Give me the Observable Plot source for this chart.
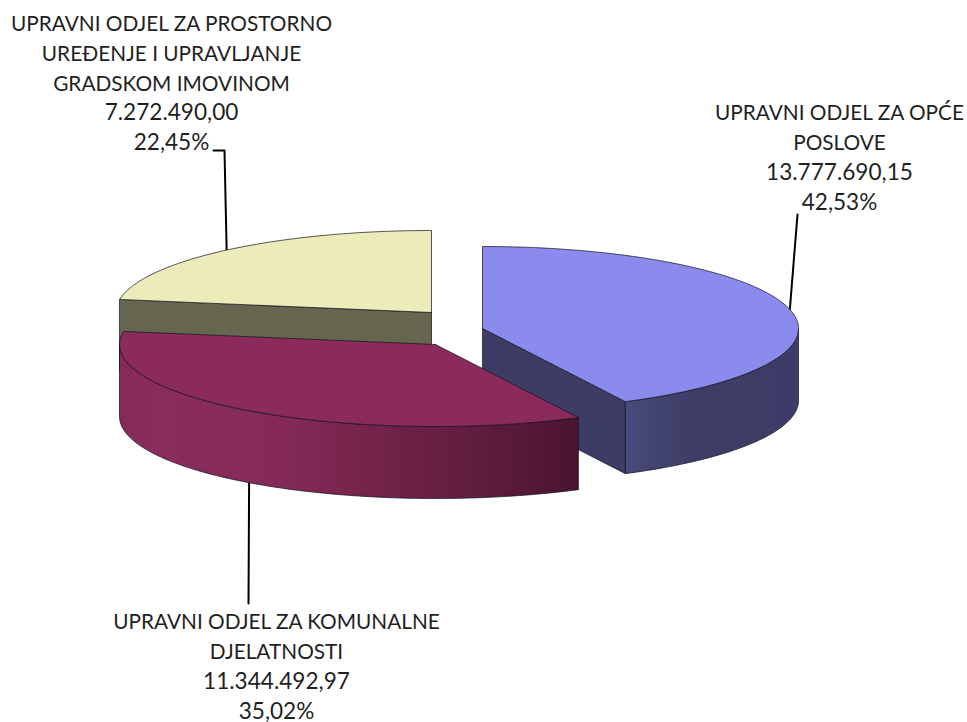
<!DOCTYPE html>
<html>
<head>
<meta charset="utf-8">
<script src="https://cdn.jsdelivr.net/npm/d3@7"></script>
<script src="https://cdn.jsdelivr.net/npm/@observablehq/plot@0.6"></script>
<style>html,body{margin:0;padding:0;background:#fff}svg{display:block}</style>
</head>
<body>
<div id="chart"></div>
<script>
// Data, in drawing order of the pie (clockwise from 12 o'clock)
const departments = ["UPRAVNI ODJEL ZA OPĆE\nPOSLOVE", "UPRAVNI ODJEL ZA KOMUNALNE\nDJELATNOSTI", "UPRAVNI ODJEL ZA PROSTORNO\nUREĐENJE I UPRAVLJANJE\nGRADSKOM IMOVINOM"];
const amounts = [13777690.15, 11344492.97, 7272490.00];

// Presentation
const topColors = ["#8b8bee", "#8b2b5b", "#ececbb"];
const wallColors = ["#3c3c66", "#8b2b5b", "#66664f"];
const centers = [[482, 328], [435, 344], [431, 312]];   // exploded slice apexes
const labelCenters = [[839, 155], [276, 664], [171, 80.5]];
const leaderEnds = [[[797, 214]], [[248, 603]], [[224, 150], [213, 150]]];
const radiusX = 316, radiusY = 82, depth = 72;
const linePitch = 29.8, nameSize = 20.8, numberSize = 22.6;

const total = d3.sum(amounts);
const num = d3.formatLocale({decimal: ",", thousands: ".", grouping: [3], currency: ["", ""]});
const fmtAmount = num.format(",.2f");
const fmtPct = v => num.format(".2f")(v) + "%";

let acc = 0;
const slices = amounts.map((v, i) => {
  const a0 = acc / total * 2 * Math.PI;
  acc += v;
  const a1 = acc / total * 2 * Math.PI;
  return {i, a0, a1, mid: (a0 + a1) / 2, cx: centers[i][0], cy: centers[i][1]};
});
const rim = (s, a, dz = 0) => ({x: s.cx + radiusX * Math.sin(a), y: s.cy - radiusY * Math.cos(a) + dz});
const arc = (s, a0, a1, dz = 0) => {
  const n = Math.max(2, Math.ceil(Math.abs(a1 - a0) * 60));
  return d3.range(n + 1).map(k => rim(s, a0 + (a1 - a0) * k / n, dz));
};
const close = pts => [...pts, pts[0]];
const apex = (s, dz = 0) => ({x: s.cx, y: s.cy + dz});

const topFace = s => close([apex(s), ...arc(s, s.a0, s.a1)]);
const radialWall = (s, a) => close([apex(s), rim(s, a), rim(s, a, depth), apex(s, depth)]);
const outerWall = s => {
  const a0 = Math.max(s.a0, Math.PI / 2), a1 = Math.min(s.a1, 3 * Math.PI / 2);
  return a1 > a0 ? close([...arc(s, a0, a1), ...arc(s, a1, a0, depth)]) : null;
};

const edge = {stroke: "#14141f", strokeWidth: 0.9, strokeOpacity: 0.8, strokeLinejoin: "round"};
const poly = (pts, fill) => Plot.line(pts, {x: "x", y: "y", fill, ...edge});

const blue = slices[0], red = slices[1], yellow = slices[2];

// Leaders start on the rim at each slice's mid-angle
const leaders = slices.map(s => {
  const front = Math.cos(s.mid) < 0;
  const start = rim(s, s.mid, front ? depth : 0);
  return [start, ...leaderEnds[s.i].map(([x, y]) => ({x, y}))];
});

// Horizontal shading for the curved walls
const gradientDefs = () => {
  const NS = "http://www.w3.org/2000/svg";
  const defs = document.createElementNS(NS, "defs");
  const make = (id, stops) => {
    const g = document.createElementNS(NS, "linearGradient");
    g.setAttribute("id", id);
    stops.forEach(([o, c]) => {
      const st = document.createElementNS(NS, "stop");
      st.setAttribute("offset", o);
      st.setAttribute("stop-color", c);
      g.appendChild(st);
    });
    defs.appendChild(g);
  };
  make("wallBlue", [[0, "#4a4c80"], [0.15, "#434470"], [0.4, "#3d3d66"], [1, "#3c3c68"]]);
  make("wallRed", [[0, "#852a58"], [0.08, "#8b2c5b"], [0.35, "#852a57"], [0.6, "#6f2248"], [0.8, "#5e1c3e"], [1, "#4b1430"]]);
  return defs;
};

// Each label is one block of lines: the name lines and the number lines are
// set at different sizes, padded with blank lines so the pitch stays shared.
const nameLabels = slices.map(s => ({
  text: `${departments[s.i]}\n\n`,
  x: labelCenters[s.i][0], y: labelCenters[s.i][1]
}));
const numberLabels = slices.map(s => ({
  text: `${departments[s.i].split("\n").map(() => "").join("\n")}\n${fmtAmount(amounts[s.i])}\n${fmtPct(amounts[s.i] / total * 100)}`,
  x: labelCenters[s.i][0], y: labelCenters[s.i][1]
}));
const textStyle = {
  x: "x", y: "y", text: "text",
  fontFamily: "Lato, 'Open Sans', sans-serif",
  fill: "#1f1f1f", textAnchor: "middle", lineAnchor: "middle"
};

const chart = Plot.plot({
  width: 967, height: 722,
  margin: 0,
  x: {axis: null, domain: [0, 967], range: [0, 967]},
  y: {axis: null, domain: [0, 722], range: [0, 722]},
  style: {background: "#fff"},
  marks: [
    gradientDefs,
    ...leaders.map(p => Plot.line(p, {x: "x", y: "y", stroke: "#000", strokeWidth: 2})),
    // yellow slice
    poly(radialWall(yellow, yellow.a0), wallColors[2]),
    poly(topFace(yellow), topColors[2]),
    // blue slice
    poly(radialWall(blue, blue.a1), wallColors[0]),
    poly(outerWall(blue), "url(#wallBlue)"),
    poly(topFace(blue), topColors[0]),
    // red slice
    poly(outerWall(red), "url(#wallRed)"),
    poly(topFace(red), topColors[1]),
    Plot.text(nameLabels, {...textStyle, fontSize: nameSize, lineHeight: linePitch / nameSize}),
    Plot.text(numberLabels, {...textStyle, fontSize: numberSize, lineHeight: linePitch / numberSize})
  ]
});
document.getElementById("chart").appendChild(chart);
</script>
</body>
</html>
